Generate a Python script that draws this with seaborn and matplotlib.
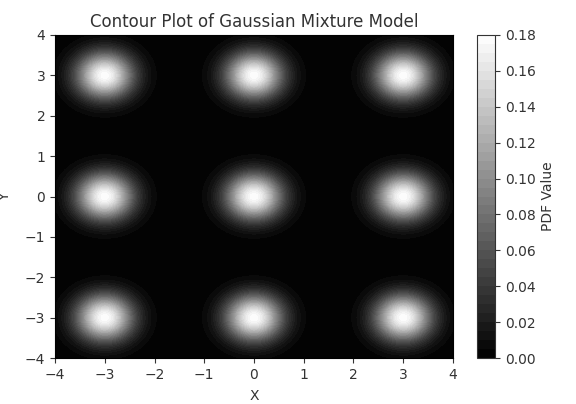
import numpy as np
import matplotlib
matplotlib.use("Agg")
import matplotlib.pyplot as plt
import seaborn as sns

# Gaussian mixture parameters
centers_x = [-3, 0, 3]
centers_y = [-3, 0, 3]
variance = 0.15         # isotropic variance of every component
weights = [0.168] * 9   # component weights (peak height about 0.178)

x_ticks = [-4, -3, -2, -1, 0, 1, 2, 3, 4]
y_ticks = [-4, -3, -2, -1, 0, 1, 2, 3, 4]
cbar_ticks = [0.00, 0.02, 0.04, 0.06, 0.08, 0.10, 0.12, 0.14, 0.16, 0.18]
level_max = 0.18
n_bands = 36

sns.set_style("ticks")
plt.rcParams['font.family'] = ['DejaVu Sans']
plt.rcParams['text.color'] = '#333333'
plt.rcParams['axes.labelcolor'] = '#333333'
plt.rcParams['xtick.color'] = '#333333'
plt.rcParams['ytick.color'] = '#333333'

xs = np.linspace(-4, 4, 300)
ys = np.linspace(-4, 4, 300)
X, Y = np.meshgrid(xs, ys)
Z = np.zeros_like(X)
k = 0
for cy in centers_y:
    for cx in centers_x:
        Z += weights[k] * np.exp(-((X - cx) ** 2 + (Y - cy) ** 2) / (2 * variance)) / (2 * np.pi * variance)
        k += 1

W, H = 576, 404
fig = plt.figure(figsize=(W / 100, H / 100), dpi=100)
ax = fig.add_axes([55 / W, (H - 358) / H, 398 / W, 323 / H])
cax = fig.add_axes([477 / W, (H - 358) / H, 18 / W, 323 / H])

levels = np.linspace(0, level_max, n_bands + 1)
cs = ax.contourf(X, Y, Z, levels=levels, cmap="gray")
ax.set_xlim(-4, 4)
ax.set_ylim(-4, 4)
ax.set_xticks(x_ticks)
ax.set_yticks(y_ticks)
for s in ax.spines.values():
    s.set_visible(True)
    s.set_color('black')
ax.set_title("Contour Plot of Gaussian Mixture Model", fontsize=12)
ax.set_xlabel("X", fontsize=10, labelpad=5)
ax.set_ylabel("Y", fontsize=10)
ax.yaxis.set_label_coords(-0.108, 0.5)
ax.tick_params(labelsize=10, length=3.5, color='#333333')

cb = fig.colorbar(cs, cax=cax)
cb.set_ticks(cbar_ticks)
cb.set_ticklabels([f"{t:.2f}" for t in cbar_ticks])
cb.set_label("PDF Value", fontsize=10)
cb.ax.tick_params(labelsize=10, length=3.5)
cb.outline.set_edgecolor('#333333')

fig.savefig("out.png", dpi=100)
